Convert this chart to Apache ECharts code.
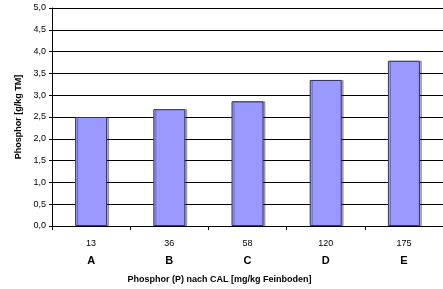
<!DOCTYPE html>
<html>
<head>
<meta charset="utf-8">
<script src="https://cdn.jsdelivr.net/npm/echarts@6/dist/echarts.min.js"></script>
<style>
html,body{margin:0;padding:0;background:#fff;}
#chart{width:443px;height:289px;}
</style>
</head>
<body>
<div id="chart"></div>
<script>
// Werte
var pCal = ['13', '36', '58', '120', '175'];
var stufen = ['A', 'B', 'C', 'D', 'E'];
var phosphor = [2.5, 2.68, 2.86, 3.35, 3.79];
var yTicks = [0, 0.5, 1, 1.5, 2, 2.5, 3, 3.5, 4, 4.5, 5];

var font = 'Liberation Sans, Arial, sans-serif';
var myChart = echarts.init(document.getElementById('chart'));
myChart.setOption({
    animation: false,
    grid: { left: 52, top: 8, width: 398, height: 220 },
    xAxis: {
        type: 'category',
        data: pCal.map(function (p, i) { return p + '\n' + stufen[i]; }),
        axisLine: { lineStyle: { color: '#000', width: 1 } },
        axisTick: { show: true, length: 4, lineStyle: { color: '#000' } },
        axisLabel: {
            margin: 9,
            formatter: function (v) {
                var s = v.split('\n');
                return '{n|' + s[0] + '}\n{b|' + s[1] + '}';
            },
            rich: {
                n: { fontFamily: font, fontSize: 9, color: '#000', lineHeight: 17 },
                b: { fontFamily: font, fontSize: 11, fontWeight: 'bold', color: '#000', lineHeight: 17 }
            }
        },
        name: 'Phosphor (P) nach CAL [mg/kg Feinboden]',
        nameLocation: 'middle',
        nameGap: 49,
        nameTextStyle: { fontFamily: font, fontSize: 9, fontWeight: 'bold', color: '#000', padding: [0, 0, 0, -56] }
    },
    yAxis: {
        type: 'value',
        min: yTicks[0],
        max: yTicks[yTicks.length - 1],
        interval: 0.5,
        axisLine: { show: true, lineStyle: { color: '#000', width: 1 } },
        axisTick: { show: true, length: 3, lineStyle: { color: '#000' } },
        splitLine: { lineStyle: { color: '#000', width: 1 } },
        axisLabel: {
            margin: 6,
            fontFamily: font,
            fontSize: 9,
            color: '#000',
            formatter: function (v) { return v.toFixed(1).replace('.', ','); }
        },
        name: 'Phosphor [g/kg TM]',
        nameLocation: 'middle',
        nameGap: 29,
        nameTextStyle: { fontFamily: font, fontSize: 9, fontWeight: 'bold', color: '#000' }
    },
    series: [{
        type: 'bar',
        data: phosphor,
        barWidth: 32,
        itemStyle: {
            color: '#9999ff',
            borderColor: '#333366',
            borderWidth: 1,
            shadowColor: 'rgba(0,0,0,0.3)',
            shadowOffsetX: 2,
            shadowOffsetY: 0,
            shadowBlur: 0
        }
    }]
});
</script>
</body>
</html>
